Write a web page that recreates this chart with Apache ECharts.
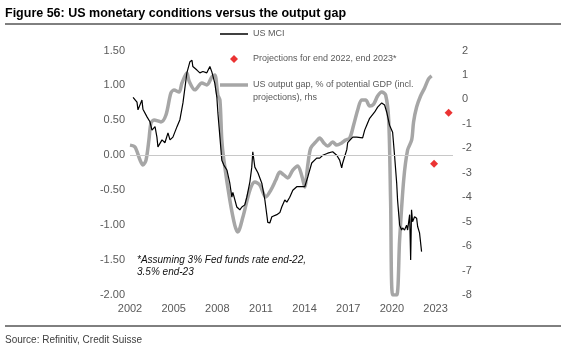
<!DOCTYPE html>
<html>
<head>
<meta charset="utf-8">
<script src="https://cdn.jsdelivr.net/npm/echarts@6/dist/echarts.min.js"></script>
<style>
  html, body { margin: 0; padding: 0; background: #fff; }
  #chart { width: 566px; height: 352px; }
</style>
</head>
<body>
<div id="chart"></div>
<script>
// US MCI (lhs)
const mciDates = [2002.21, 2002.48, 2002.55, 2002.82, 2002.89, 2003.17, 2003.37, 2003.51, 2003.72, 2003.85,
    2003.92, 2004.20, 2004.40, 2004.61, 2004.75, 2004.95, 2005.23, 2005.43, 2005.64, 2005.91,
    2006.12, 2006.26, 2006.32, 2006.60, 2006.80, 2007.01, 2007.28, 2007.49, 2007.63, 2007.70,
    2007.83, 2007.97, 2008.04, 2008.18, 2008.31, 2008.45, 2008.66, 2008.86, 2009.00, 2009.07,
    2009.34, 2009.55, 2009.69, 2009.89, 2010.03, 2010.24, 2010.37, 2010.44, 2010.58, 2010.79,
    2011.06, 2011.27, 2011.47, 2011.61, 2011.75, 2012.09, 2012.30, 2012.43, 2012.64, 2012.78,
    2012.98, 2013.19, 2013.46, 2013.81, 2014.01, 2014.22, 2014.49, 2014.83, 2015.04, 2015.25,
    2015.59, 2015.93, 2016.21, 2016.41, 2016.55, 2016.62, 2016.90, 2016.96, 2017.31, 2017.58,
    2017.99, 2018.13, 2018.27, 2018.47, 2018.82, 2019.02, 2019.30, 2019.36, 2019.50, 2019.64,
    2019.84, 2020.05, 2020.19, 2020.33, 2020.39, 2020.53, 2020.67, 2020.74, 2020.87, 2021.01,
    2021.08, 2021.22, 2021.29, 2021.35, 2021.42, 2021.56, 2021.70, 2021.77, 2021.90, 2022.04]
const mciValues = [0.83, 0.76, 0.65, 0.79, 0.66, 0.55, 0.48, 0.36, 0.41, 0.26,
    0.12, 0.22, 0.18, 0.32, 0.22, 0.26, 0.41, 0.51, 0.75, 1.18,
    1.34, 1.36, 1.27, 1.22, 1.18, 1.20, 1.18, 1.27, 1.19, 1.21,
    1.03, 0.83, 0.61, 0.26, -0.07, -0.14, -0.21, -0.40, -0.60, -0.53,
    -0.74, -0.78, -0.74, -0.71, -0.60, -0.38, -0.17, 0.05, -0.17, -0.25,
    -0.40, -0.64, -0.96, -0.97, -0.88, -0.85, -0.82, -0.74, -0.64, -0.67,
    -0.60, -0.50, -0.45, -0.45, -0.45, -0.31, -0.11, -0.04, -0.04, 0.00,
    0.03, 0.05, 0.00, -0.07, -0.18, -0.11, 0.08, 0.18, 0.26, 0.26,
    0.25, 0.36, 0.43, 0.53, 0.62, 0.69, 0.75, 0.76, 0.72, 0.62,
    0.43, 0.33, -0.02, -0.40, -0.64, -1.00, -1.07, -1.04, -1.07, -1.00,
    -1.07, -0.85, -1.50, -0.78, -0.95, -0.88, -0.90, -1.02, -1.11, -1.38]

// US output gap, % of potential GDP (rhs)
const gapDates = [2002.00, 2002.34, 2002.69, 2002.89, 2003.10, 2003.30, 2003.44, 2003.65, 2004.13, 2004.47,
    2004.81, 2005.02, 2005.37, 2005.57, 2005.91, 2006.06, 2006.46, 2006.94, 2007.28, 2007.63,
    2007.83, 2008.04, 2008.18, 2008.31, 2008.45, 2008.86, 2009.20, 2009.41, 2009.76, 2010.24,
    2010.58, 2010.92, 2011.33, 2011.68, 2012.02, 2012.30, 2012.57, 2012.84, 2013.19, 2013.53,
    2013.81, 2014.01, 2014.22, 2014.42, 2014.77, 2015.04, 2015.32, 2015.59, 2015.93, 2016.21,
    2016.55, 2016.82, 2017.10, 2017.37, 2017.65, 2017.92, 2018.20, 2018.47, 2018.75, 2019.02,
    2019.30, 2019.57, 2019.78, 2019.91, 2020.05, 2020.33, 2020.53, 2020.81, 2021.08, 2021.36,
    2021.49, 2021.70, 2021.97, 2022.25, 2022.52, 2022.73]
const gapValues = [-1.87, -1.95, -2.48, -2.68, -2.48, -1.66, -0.97, -0.84, -0.92, -0.64,
    0.26, 0.38, 0.30, 0.67, 1.08, 0.75, 0.39, 0.67, 0.59, 0.92,
    1.00, 0.18, -0.02, -1.66, -2.48, -4.11, -5.14, -5.42, -4.81, -3.71,
    -3.38, -3.50, -3.99, -3.71, -3.30, -2.97, -3.09, -3.21, -2.89, -2.72,
    -3.13, -3.58, -2.68, -1.99, -1.74, -1.58, -1.78, -1.91, -1.74, -1.87,
    -1.78, -1.66, -1.58, -1.05, -0.43, -0.02, -0.02, -0.27, -0.19, 0.14,
    0.30, 0.18, -0.84, -4.11, -8.00, -8.00, -5.75, -3.30, -2.07, -1.66,
    -0.92, -0.31, 0.14, 0.47, 0.84, 0.96]

// MCI projections, end 2022 and end 2023
const projDates = [2022.9, 2023.9]
const projValues = [-0.12, 0.61]

const yearTicks = [2002, 2005, 2008, 2011, 2014, 2017, 2020, 2023]

const mciName = 'US MCI'
const projName = 'Projections for end 2022, end 2023*'
const gapName = 'US output gap, % of potential GDP (incl. projections), rhs'

function zip(xs, ys) {
    let out = []
    for (let i in xs) out.push([xs[i], ys[i]])
    return out
}

const font = 'Liberation Sans, Arial, sans-serif'
const labelColor = '#595959'
const legendText = { color: labelColor, fontSize: 9, lineHeight: 12, fontFamily: font }

let chart = echarts.init(document.getElementById('chart'), null, { renderer: 'canvas' })
let option = {
    animation: false,
    textStyle: { fontFamily: font },
    grid: { left: 130, right: 113, top: 50.5, bottom: 57, containLabel: false },
    xAxis: {
        type: 'value',
        min: 2002,
        max: 2024.2,
        axisLine: { show: false },
        axisTick: { show: false },
        splitLine: { show: false },
        axisLabel: {
            customValues: yearTicks,
            formatter: v => String(v),
            color: labelColor, fontSize: 11, margin: 8, fontFamily: font
        }
    },
    yAxis: [
        {
            type: 'value', min: -2, max: 1.5, interval: 0.5,
            axisLine: { show: false }, axisTick: { show: false }, splitLine: { show: false },
            axisLabel: { formatter: v => v.toFixed(2), color: labelColor, fontSize: 11, margin: 5, fontFamily: font }
        },
        {
            type: 'value', min: -8, max: 2, interval: 1, position: 'right',
            axisLine: { show: false }, axisTick: { show: false }, splitLine: { show: false },
            axisLabel: { color: labelColor, fontSize: 11, margin: 9, fontFamily: font }
        }
    ],
    legend: [
        {
            data: [{ name: mciName, icon: 'rect' }], left: 220, top: 28, padding: 0,
            itemWidth: 28, itemHeight: 1.5, textStyle: legendText
        },
        {
            data: [{ name: projName, icon: 'path://M4,0L8,4L4,8L0,4Z' }], left: 230, top: 53, padding: 0,
            itemWidth: 28, itemHeight: 8, symbolKeepAspect: true, textStyle: legendText
        },
        {
            data: [{ name: gapName, icon: 'rect' }], left: 220, top: 65.5, padding: 0,
            itemWidth: 28, itemHeight: 3.5,
            formatter: () => '\nUS output gap, % of potential GDP (incl.\nprojections), rhs',
            textStyle: { color: labelColor, fontSize: 9, lineHeight: 13, fontFamily: font }
        }
    ],
    graphic: [
        {
            type: 'text', left: 5, top: 7,
            style: { text: 'Figure 56: US monetary conditions versus the output gap', fontSize: 12.5, fontWeight: 'bold', fill: '#000', fontFamily: font }
        },
        { type: 'line', shape: { x1: 5, y1: 24, x2: 561, y2: 24 }, style: { stroke: '#000', lineWidth: 1 } },
        { type: 'line', shape: { x1: 5, y1: 326, x2: 561, y2: 326 }, style: { stroke: '#000', lineWidth: 1 } },
        {
            type: 'text', left: 5, top: 335,
            style: { text: 'Source: Refinitiv, Credit Suisse', fontSize: 10, fill: '#404040', fontFamily: font }
        },
        {
            type: 'text', left: 137, top: 254,
            style: { text: '*Assuming 3% Fed funds rate end-22,\n3.5% end-23', fontSize: 10, fontStyle: 'italic', lineHeight: 12, fill: '#111', fontFamily: font }
        }
    ],
    series: [
        {
            name: gapName, type: 'line', yAxisIndex: 1, symbol: 'none', smooth: 0.3,
            lineStyle: { color: '#a6a6a6', width: 3.5 }, itemStyle: { color: '#a6a6a6' },
            data: zip(gapDates, gapValues)
        },
        {
            name: mciName, type: 'line', yAxisIndex: 0, symbol: 'none',
            lineStyle: { color: '#000', width: 1.2 }, itemStyle: { color: '#000' },
            data: zip(mciDates, mciValues),
            markLine: {
                silent: true, symbol: 'none', label: { show: false },
                lineStyle: { color: '#c8c8c8', width: 1, type: 'solid' },
                data: [{ yAxis: 0 }]
            }
        },
        {
            name: projName, type: 'scatter', yAxisIndex: 0, symbol: 'diamond', symbolSize: 8,
            itemStyle: { color: '#e60000' },
            data: zip(projDates, projValues)
        }
    ]
}
chart.setOption(option)
</script>
</body>
</html>
